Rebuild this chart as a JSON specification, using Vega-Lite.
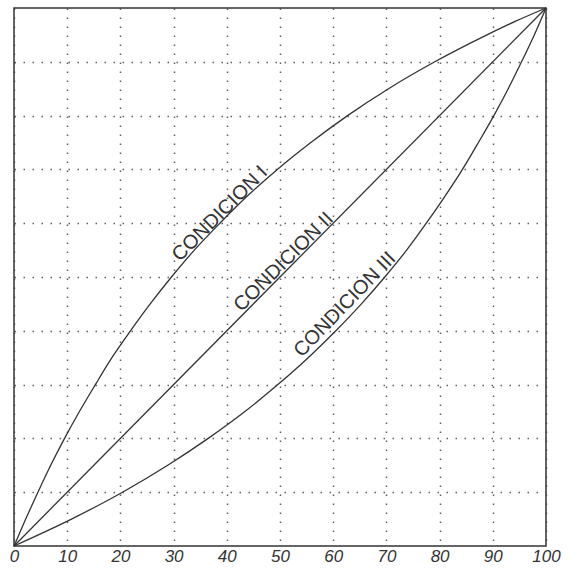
{
  "$schema": "https://vega.github.io/schema/vega-lite/v6.json",
  "width": 532,
  "height": 538,
  "autosize": "none",
  "padding": {"left": 14, "top": 8, "right": 33, "bottom": 23},
  "background": "white",
  "config": {
    "view": {"stroke": "#333", "strokeWidth": 1.5},
    "axis": {"gridColor": "#444", "gridDash": [1.5, 7.5], "gridWidth": 1.5, "gridOpacity": 0.85}
  },
  "datasets": {
    "curves": [
      {"curve": "I", "x": 0, "y": 0}, {"curve": "I", "x": 1.1, "y": 2.5}, {"curve": "I", "x": 2.2, "y": 5},
      {"curve": "I", "x": 4.5, "y": 10}, {"curve": "I", "x": 6.9, "y": 15}, {"curve": "I", "x": 9.5, "y": 20},
      {"curve": "I", "x": 12.3, "y": 25}, {"curve": "I", "x": 15.3, "y": 30}, {"curve": "I", "x": 18.4, "y": 35},
      {"curve": "I", "x": 21.9, "y": 40}, {"curve": "I", "x": 25.6, "y": 45}, {"curve": "I", "x": 29.6, "y": 50},
      {"curve": "I", "x": 33.9, "y": 55}, {"curve": "I", "x": 38.7, "y": 60}, {"curve": "I", "x": 43.8, "y": 65},
      {"curve": "I", "x": 49.5, "y": 70}, {"curve": "I", "x": 55.8, "y": 75}, {"curve": "I", "x": 62.7, "y": 80},
      {"curve": "I", "x": 70.4, "y": 85}, {"curve": "I", "x": 79.1, "y": 90}, {"curve": "I", "x": 88.9, "y": 95},
      {"curve": "I", "x": 94.2, "y": 97.5}, {"curve": "I", "x": 100, "y": 100},
      {"curve": "II", "x": 0, "y": 0}, {"curve": "II", "x": 100, "y": 100},
      {"curve": "III", "x": 0, "y": 0}, {"curve": "III", "x": 10.8, "y": 5}, {"curve": "III", "x": 20.4, "y": 10},
      {"curve": "III", "x": 28.9, "y": 15}, {"curve": "III", "x": 36.5, "y": 20}, {"curve": "III", "x": 43.4, "y": 25},
      {"curve": "III", "x": 49.6, "y": 30}, {"curve": "III", "x": 55.3, "y": 35}, {"curve": "III", "x": 60.5, "y": 40},
      {"curve": "III", "x": 65.3, "y": 45}, {"curve": "III", "x": 69.7, "y": 50}, {"curve": "III", "x": 73.8, "y": 55},
      {"curve": "III", "x": 77.5, "y": 60}, {"curve": "III", "x": 81.0, "y": 65}, {"curve": "III", "x": 84.3, "y": 70},
      {"curve": "III", "x": 87.3, "y": 75}, {"curve": "III", "x": 90.2, "y": 80}, {"curve": "III", "x": 92.9, "y": 85},
      {"curve": "III", "x": 95.4, "y": 90}, {"curve": "III", "x": 97.8, "y": 95}, {"curve": "III", "x": 100, "y": 100}
    ],
    "labels": [
      {"text": "CONDICION I", "x": 39.5, "y": 61.0, "angle": -45},
      {"text": "CONDICION II", "x": 51.5, "y": 52.0, "angle": -45},
      {"text": "CONDICION III", "x": 63.0, "y": 44.1, "angle": -46}
    ]
  },
  "layer": [
    {
      "data": {"name": "curves"},
      "mark": {"type": "line", "color": "#333", "strokeWidth": 1.3, "interpolate": "monotone"},
      "encoding": {
        "x": {
          "field": "x", "type": "quantitative",
          "scale": {"domain": [0, 100], "nice": false},
          "axis": {
            "values": [0, 10, 20, 30, 40, 50, 60, 70, 80, 90, 100],
            "title": null, "ticks": false, "domain": false,
            "labelFont": "Liberation Sans", "labelFontStyle": "italic", "labelFontSize": 17,
            "labelColor": "#333", "labelPadding": 2, "labelDx": 3, "labelFlush": false
          }
        },
        "y": {
          "field": "y", "type": "quantitative",
          "scale": {"domain": [0, 100], "nice": false},
          "axis": {
            "values": [10, 20, 30, 40, 50, 60, 70, 80, 90],
            "title": null, "labels": false, "ticks": false, "domain": false
          }
        },
        "detail": {"field": "curve", "type": "nominal"}
      }
    },
    {
      "data": {"name": "labels"},
      "mark": {"type": "text", "font": "Liberation Sans", "fontSize": 20, "color": "#333", "align": "center", "baseline": "alphabetic"},
      "encoding": {
        "x": {"field": "x", "type": "quantitative"},
        "y": {"field": "y", "type": "quantitative"},
        "angle": {"field": "angle", "type": "quantitative", "scale": null},
        "text": {"field": "text", "type": "nominal"}
      }
    }
  ]
}
